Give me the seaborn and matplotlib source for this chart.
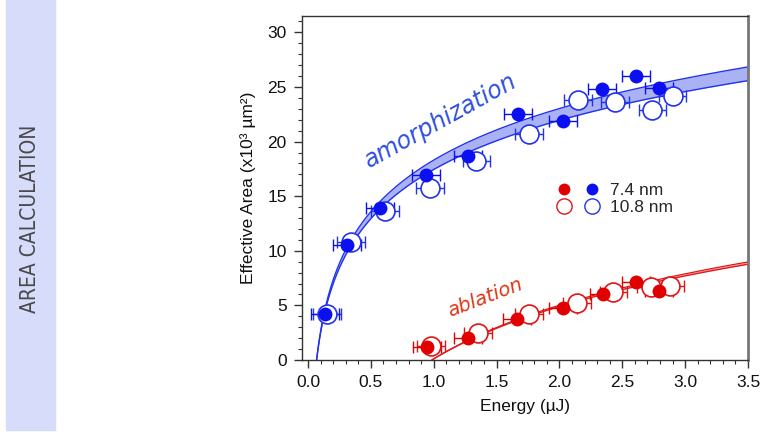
import numpy as np
import pandas as pd
import matplotlib
matplotlib.use("Agg")
import matplotlib.pyplot as plt
import seaborn as sns
from matplotlib.ticker import MultipleLocator
from matplotlib.legend_handler import HandlerTuple
from matplotlib.lines import Line2D

# Measured effective areas (x10^3 um^2) vs pulse energy (uJ)
energy_amorph_74 = [0.135, 0.31, 0.574, 0.94, 1.27, 1.67, 2.03, 2.34, 2.61, 2.79]
area_amorph_74 = [4.2, 10.55, 13.9, 16.9, 18.65, 22.57, 21.9, 24.8, 26.05, 24.9]
energy_amorph_108 = [0.15, 0.34, 0.61, 0.97, 1.34, 1.76, 2.15, 2.44, 2.74, 2.90]
area_amorph_108 = [4.2, 10.76, 13.6, 15.75, 18.2, 20.7, 23.8, 23.6, 22.9, 24.15]
energy_abl_74 = [0.945, 1.27, 1.66, 2.03, 2.35, 2.61, 2.79]
area_abl_74 = [1.16, 2.0, 3.76, 4.8, 6.08, 7.1, 6.36]
energy_abl_108 = [0.98, 1.35, 1.76, 2.14, 2.43, 2.73, 2.88]
area_abl_108 = [1.28, 2.5, 4.2, 5.2, 6.2, 6.67, 6.8]
energy_err = 0.11

# Logarithmic threshold model A = k * ln(E / E_th)
amorph_k, amorph_eth, amorph_spread = 6.65, 0.068, 0.024
abl_k, abl_eth, abl_spread = 7.0, 0.985, 0.012

BLUE = "#0a10f0"
BLUE_LINE = "#2233ee"
BLUE_FILL = "#aab2f4"
RED = "#e00000"
RED_LINE = "#e01515"
RED_FILL = "#f4a0a0"

sns.set_style("ticks")
plt.rcParams["font.family"] = ["Liberation Sans", "DejaVu Sans"]

fig = plt.figure(figsize=(7.64, 4.42), dpi=100)

# side banner
fig.patches.append(plt.Rectangle((6 / 764, 12 / 442), 49 / 764, 430 / 442,
                                 transform=fig.transFigure, color="#d6dcfa",
                                 zorder=0))
fig.text(30 / 764, 1 - 219 / 442, "AREA CALCULATION", rotation=90,
         ha="center", va="center", fontsize=15, color="#4a4a4a",
         family=["DejaVu Sans"], fontstretch="condensed", fontweight="normal")

ax = fig.add_axes([302 / 764, 1 - 360 / 442, 446 / 764, 344 / 442])


def fit_band(k, eth, spread, color_fill, color_line, lw):
    e = np.linspace(eth, 3.5, 300)
    base = np.log(e / eth)
    lo = k * (1 - spread) * base
    hi = k * (1 + spread) * base
    ax.fill_between(e, lo, hi, color=color_fill, lw=0, zorder=1)
    band = pd.DataFrame({"E": np.concatenate([e, e]),
                         "A": np.concatenate([lo, hi]),
                         "edge": ["lo"] * len(e) + ["hi"] * len(e)})
    sns.lineplot(data=band, x="E", y="A", units="edge", estimator=None,
                 color=color_line, lw=lw, ax=ax, zorder=2, legend=False)


fit_band(amorph_k, amorph_eth, amorph_spread, BLUE_FILL, BLUE_LINE, 1.0)
fit_band(abl_k, abl_eth, abl_spread, RED_FILL, RED_LINE, 0.9)


def points(xs, ys, color, filled):
    ax.errorbar(xs, ys, xerr=energy_err, fmt="none", ecolor=color,
                elinewidth=1.0, capsize=4, capthick=1.0, zorder=3)
    df = pd.DataFrame({"E": xs, "A": ys})
    if filled:
        sns.scatterplot(data=df, x="E", y="A", s=100, color=color,
                        edgecolor=color, linewidth=0, ax=ax, zorder=5)
    else:
        sns.scatterplot(data=df, x="E", y="A", s=185, facecolor="white",
                        edgecolor=color, linewidth=1.2, ax=ax, zorder=4)


points(energy_amorph_108, area_amorph_108, BLUE_LINE, False)
points(energy_abl_108, area_abl_108, RED_LINE, False)
points(energy_amorph_74, area_amorph_74, BLUE, True)
points(energy_abl_74, area_abl_74, RED, True)

# handwritten-style annotations
ax.text(1.05, 21.9, "amorphization", rotation=29, ha="center", va="center",
        fontsize=17, color="#3050e0", fontstyle="italic", fontweight="light",
        family=["DejaVu Sans"])
ax.text(1.41, 5.7, "ablation", rotation=21, ha="center", va="center",
        fontsize=14, color="#e03515", fontstyle="italic", fontweight="light",
        family=["DejaVu Sans"])

# legend
h_red_f = Line2D([], [], ls="none", marker="o", ms=8.5, color=RED, mew=0)
h_blue_f = Line2D([], [], ls="none", marker="o", ms=8.5, color=BLUE, mew=0)
h_red_o = Line2D([], [], ls="none", marker="o", ms=11, mfc="white", mec=RED_LINE, mew=1.0)
h_blue_o = Line2D([], [], ls="none", marker="o", ms=11, mfc="white", mec=BLUE_LINE, mew=1.0)
ax.legend([(h_red_f, h_blue_f), (h_red_o, h_blue_o)], ["7.4 nm", "10.8 nm"],
          handler_map={tuple: HandlerTuple(ndivide=None, pad=0.6)},
          loc="center", bbox_to_anchor=(0.70, 0.468), frameon=False,
          fontsize=12.5, handlelength=2.6, handletextpad=0.5,
          labelspacing=0.15, borderpad=0)

ax.set_xlim(-0.048, 3.5)
ax.set_ylim(0, 31.5)
ax.xaxis.set_major_locator(MultipleLocator(0.5))
ax.xaxis.set_minor_locator(MultipleLocator(0.1))
ax.yaxis.set_major_locator(MultipleLocator(5))
ax.yaxis.set_minor_locator(MultipleLocator(1))
ax.xaxis.set_major_formatter(matplotlib.ticker.FormatStrFormatter("%.1f"))
ax.tick_params(which="major", direction="out", length=6, width=1,
               color="#333333", labelsize=12.5, labelcolor="#111111",
               top=False, right=False, pad=5)
ax.tick_params(which="minor", direction="out", length=3, width=0.8,
               color="#333333", top=False, right=False)
for side in ["left", "bottom", "top"]:
    ax.spines[side].set_color("#333333")
    ax.spines[side].set_linewidth(1.0)
ax.spines["right"].set_color("#777777")
ax.spines["right"].set_linewidth(2.0)

ax.set_xlabel("Energy (µJ)", fontsize=12.5, color="#111111", labelpad=6)
ax.set_ylabel("Effective Area (x10³ µm²)", fontsize=12.5, color="#111111",
              labelpad=8)

fig.savefig("out.png", dpi=100)
